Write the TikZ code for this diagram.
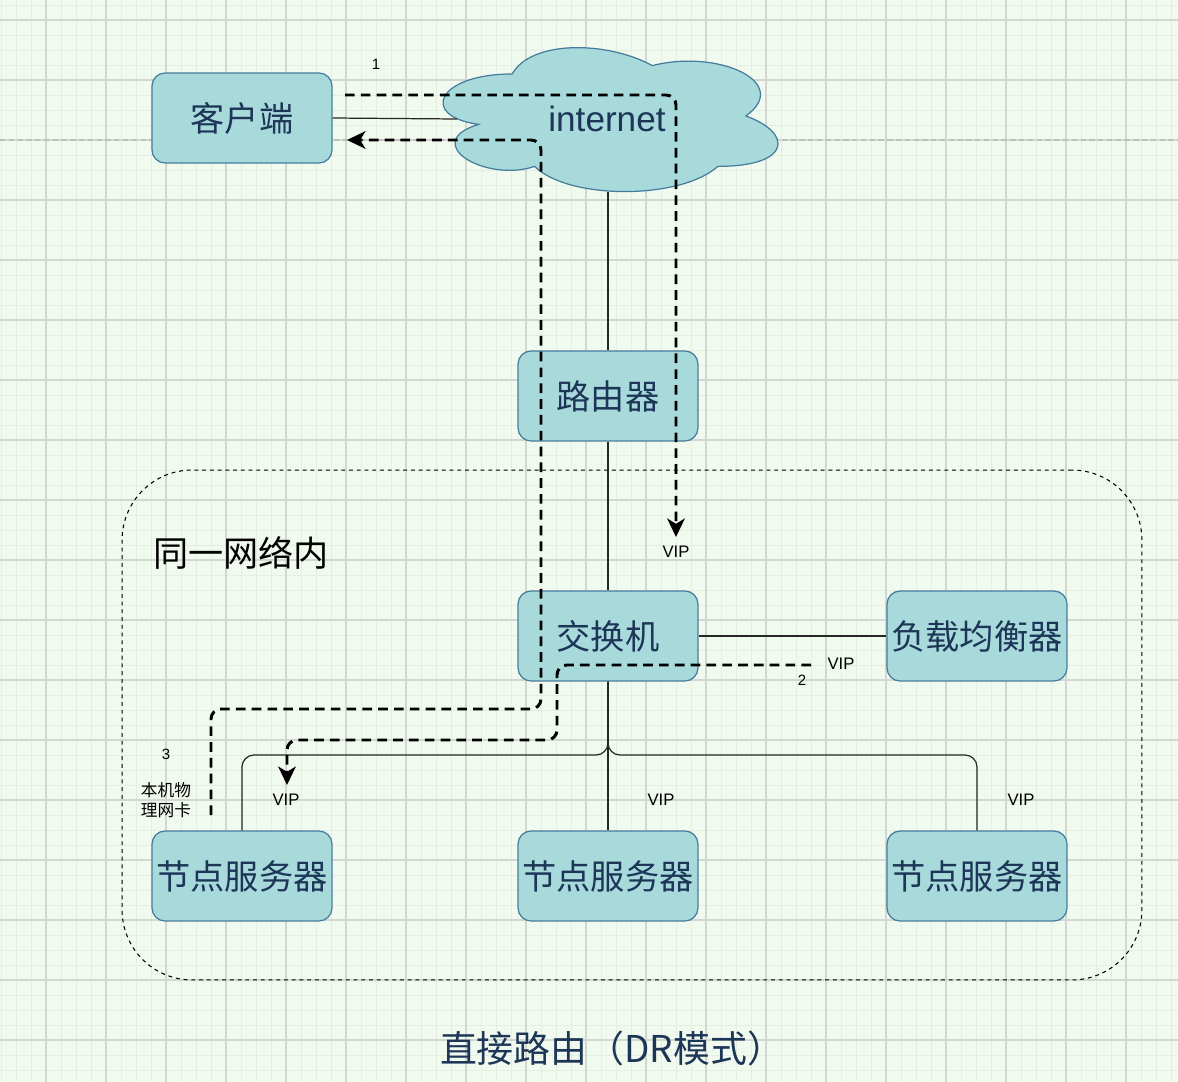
\documentclass[tikz,border=0pt]{standalone}
\usepackage{fontspec}
\setmainfont{Liberation Sans}
\newfontfamily\cjk{Noto Sans CJK SC}
\usetikzlibrary{arrows.meta}

\definecolor{boxfill}{HTML}{A8DADC}
\definecolor{boxline}{HTML}{457B9D}
\definecolor{boxtext}{HTML}{1D3557}
\definecolor{paper}{HTML}{F1FAEE}
\definecolor{gridminor}{HTML}{E5EEE3}
\definecolor{gridmajor}{HTML}{D3D7D2}

\tikzset{
	box/.style={draw=boxline, fill=boxfill, line width=0.7pt,
		rounded corners=0.26cm, minimum width=3.6cm, minimum height=1.8cm,
		inner sep=0pt, text=boxtext, font=\cjk\fontsize{19.5}{23}\selectfont},
	conn/.style={draw=black!85, line width=0.7pt},
	flow/.style={draw=black, line width=1.7pt, dash pattern=on 5.5pt off 3.5pt,
		rounded corners=0.2cm, -{Stealth[length=10.5pt,width=10pt,inset=3pt]}},
	small/.style={text=black, font=\fontsize{9.5}{11}\selectfont},
	tiny/.style={text=black, font=\fontsize{8.5}{10}\selectfont},
}

\begin{document}
\begin{tikzpicture}[x=0.02cm, y=-0.02cm]
	
	\useasboundingbox (0,0) rectangle (1178,1082);
	
	% paper and grid
	\fill[paper] (0,0) rectangle (1178,1082);
	\foreach \gx in {1,16,...,1178} \draw[gridminor, line width=0.5pt] (\gx,0) -- (\gx,1082);
	\foreach \gy in {5,20,...,1082} \draw[gridminor, line width=0.5pt] (0,\gy) -- (1178,\gy);
	\foreach \gx in {46,106,...,1178} \draw[gridmajor, line width=0.6pt] (\gx,0) -- (\gx,1082);
	\foreach \gy in {20,80,...,1082} \draw[gridmajor, line width=0.6pt] (0,\gy) -- (1178,\gy);
	\draw[black!25, line width=0.7pt, dash pattern=on 3pt off 2pt] (0,140) -- (1178,140);
	
	% same network
	\node[draw=black, line width=0.6pt, dash pattern=on 2.2pt off 2.2pt,
	rounded corners=1.4cm, minimum width=20.4cm, minimum height=10.2cm] (lan) at (632,725) {};
	\node[text=black, font=\cjk\fontsize{20}{24}\selectfont] (lanname) at (241,553) {同一网络内};
	
	% cloud
	\begin{scope}[shift={(418.7,32)}, x=7.48cm, y=-3.36cm]
		\filldraw[draw=boxline, fill=boxfill, line width=0.7pt]
		(0.25,0.25) .. controls (0.05,0.25) and (0,0.5) .. (0.16,0.55)
		.. controls (0,0.66) and (0.18,0.9) .. (0.31,0.8)
		.. controls (0.4,1) and (0.7,1) .. (0.8,0.8)
		.. controls (1,0.8) and (1,0.6) .. (0.875,0.5)
		.. controls (1,0.3) and (0.8,0.1) .. (0.625,0.2)
		.. controls (0.5,0.05) and (0.3,0.05) .. (0.25,0.25) -- cycle;
	\end{scope}
	\node[text=boxtext, font=\fontsize{20}{24}\selectfont] (net) at (607,119) {internet};
	\coordinate (netW) at (457,119);
	\coordinate (netS) at (608,192);
	
	% boxes
	\node[box] (client) at (242,118) {客户端};
	\node[box] (router) at (608,396) {路由器};
	\node[box] (switch) at (608,636) {交换机};
	\node[box] (lb) at (977,636) {负载均衡器};
	\node[box] (rs1) at (242,876) {节点服务器};
	\node[box] (rs2) at (608,876) {节点服务器};
	\node[box] (rs3) at (977,876) {节点服务器};
	
	% wires
	\draw[conn] (client.east) -- (netW);
	\draw[conn] (netS) -- (router.north);
	\draw[conn] (router.south) -- (switch.north);
	\draw[conn] (switch.east) -- (lb.west);
	\draw[conn] (switch.south) -- (rs2.north);
	\draw[conn, rounded corners=0.24cm] (switch.south) |- (242,755) -- (rs1.north);
	\draw[conn, rounded corners=0.24cm] (switch.south) |- (977,755) -- (rs3.north);
	
	% packet flow
	\coordinate (f1a) at (345,95);
	\coordinate (f1b) at (676,537);
	\coordinate (f2a) at (211,815);
	\coordinate (f2c) at (541,709);
	\coordinate (f2b) at (347,140);
	\coordinate (f3a) at (811,665);
	\coordinate (f3c) at (557,740);
	\coordinate (f3b) at (287,785);
	\draw[flow] (f1a) -| (f1b);
	\draw[flow] (f2a) |- (f2c) |- (f2b);
	\draw[flow] (f3a) -| (f3c) -| (f3b);
	
	% labels
	\node[tiny] (step1) at (376,64) {1};
	\node[tiny] (step2) at (802,680) {2};
	\node[tiny] (step3) at (166,754) {3};
	\node[small, font=\cjk\fontsize{9.5}{11.5}\selectfont, align=center] (nic) at (166,800) {本机物\\理网卡};
	\node[small] (vip0) at (676,552) {VIP};
	\node[small] (vipl) at (841,664) {VIP};
	\node[small] (vip1) at (286,800) {VIP};
	\node[small] (vip2) at (661,800) {VIP};
	\node[small] (vip3) at (1021,800) {VIP};
	
	\node[text=boxtext, font=\cjk\fontsize{21}{25}\selectfont] (title) at (612,1048) {直接路由（DR模式）};
	
\end{tikzpicture}
\end{document}
